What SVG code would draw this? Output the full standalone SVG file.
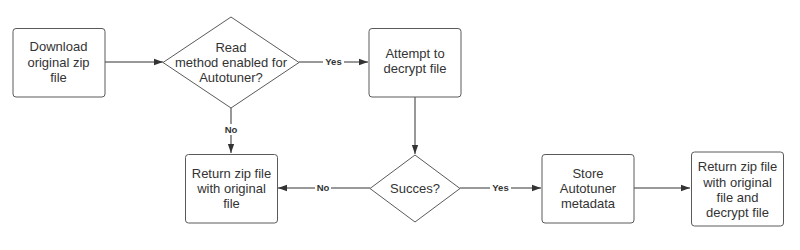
<svg xmlns="http://www.w3.org/2000/svg" width="800" height="250" viewBox="0 0 800 250">
<style>
.n{fill:#fff;stroke:#5a5a5a;stroke-width:1}
.t{font-family:"Liberation Sans",Arial,sans-serif;font-size:13px;fill:#333;text-anchor:middle}
.c{stroke:#333;stroke-width:1;fill:none}
.l{font-family:"Liberation Sans",Arial,sans-serif;font-size:9.5px;font-weight:bold;fill:#333;text-anchor:middle}
</style>
<defs>
<marker id="a" viewBox="0 0 10 10" refX="10" refY="5" markerWidth="9" markerHeight="9" markerUnits="userSpaceOnUse" orient="auto">
<path d="M0,1.5 L10,5 L0,8.5 Z" fill="#333"/>
</marker>
</defs>
<rect width="800" height="250" fill="#fff"/>
<g id="connectors">
<line class="c" x1="105" y1="62" x2="163" y2="62" marker-end="url(#a)"/>
<line class="c" x1="299" y1="62" x2="368" y2="62" marker-end="url(#a)"/>
<line class="c" x1="231" y1="108" x2="231" y2="153" marker-end="url(#a)"/>
<line class="c" x1="415" y1="97" x2="415" y2="154" marker-end="url(#a)"/>
<line class="c" x1="370" y1="188" x2="278" y2="188" marker-end="url(#a)"/>
<line class="c" x1="460" y1="188" x2="541" y2="188" marker-end="url(#a)"/>
<line class="c" x1="634" y1="188" x2="690" y2="188" marker-end="url(#a)"/>
<rect x="323" y="56" width="21" height="11" fill="#fff"/>
<text class="l" x="333.5" y="65">Yes</text>
<rect x="223" y="124" width="16" height="11" fill="#fff"/>
<text class="l" x="231" y="133">No</text>
<rect x="315" y="182" width="16" height="11" fill="#fff"/>
<text class="l" x="323" y="191">No</text>
<rect x="490" y="182" width="21" height="11" fill="#fff"/>
<text class="l" x="500.5" y="191">Yes</text>
</g>
<g id="download">
<rect class="n" x="13" y="28.5" width="92" height="68.5" rx="3"/>
<text class="t" x="58.5" y="51">Download</text>
<text class="t" x="58.5" y="66.5">original zip</text>
<text class="t" x="58.5" y="81.5">file</text>
</g>
<g id="read">
<polygon class="n" points="231,17 299,62.5 231,108 163,62.5"/>
<text class="t" x="231" y="52">Read</text>
<text class="t" x="231" y="67">method enabled for</text>
<text class="t" x="231" y="82">Autotuner?</text>
</g>
<g id="attempt">
<rect class="n" x="369" y="28.5" width="92" height="68.5" rx="3"/>
<text class="t" x="415" y="58">Attempt to</text>
<text class="t" x="415" y="73">decrypt file</text>
</g>
<g id="succes">
<polygon class="n" points="415,155 460,188.5 415,222 370,188.5"/>
<text class="t" x="415" y="193">Succes?</text>
</g>
<g id="return1">
<rect class="n" x="185.5" y="154.5" width="92" height="68.5" rx="3"/>
<text class="t" x="231.5" y="178">Return zip file</text>
<text class="t" x="231.5" y="193">with original</text>
<text class="t" x="231.5" y="208">file</text>
</g>
<g id="store">
<rect class="n" x="542" y="154.5" width="92" height="68.5" rx="3"/>
<text class="t" x="588" y="178">Store</text>
<text class="t" x="588" y="193">Autotuner</text>
<text class="t" x="588" y="208">metadata</text>
</g>
<g id="return2">
<rect class="n" x="691.5" y="152" width="92" height="74" rx="3"/>
<text class="t" x="737.5" y="171">Return zip file</text>
<text class="t" x="737.5" y="186.5">with original</text>
<text class="t" x="737.5" y="201.5">file and</text>
<text class="t" x="737.5" y="216.5">decrypt file</text>
</g>
</svg>
